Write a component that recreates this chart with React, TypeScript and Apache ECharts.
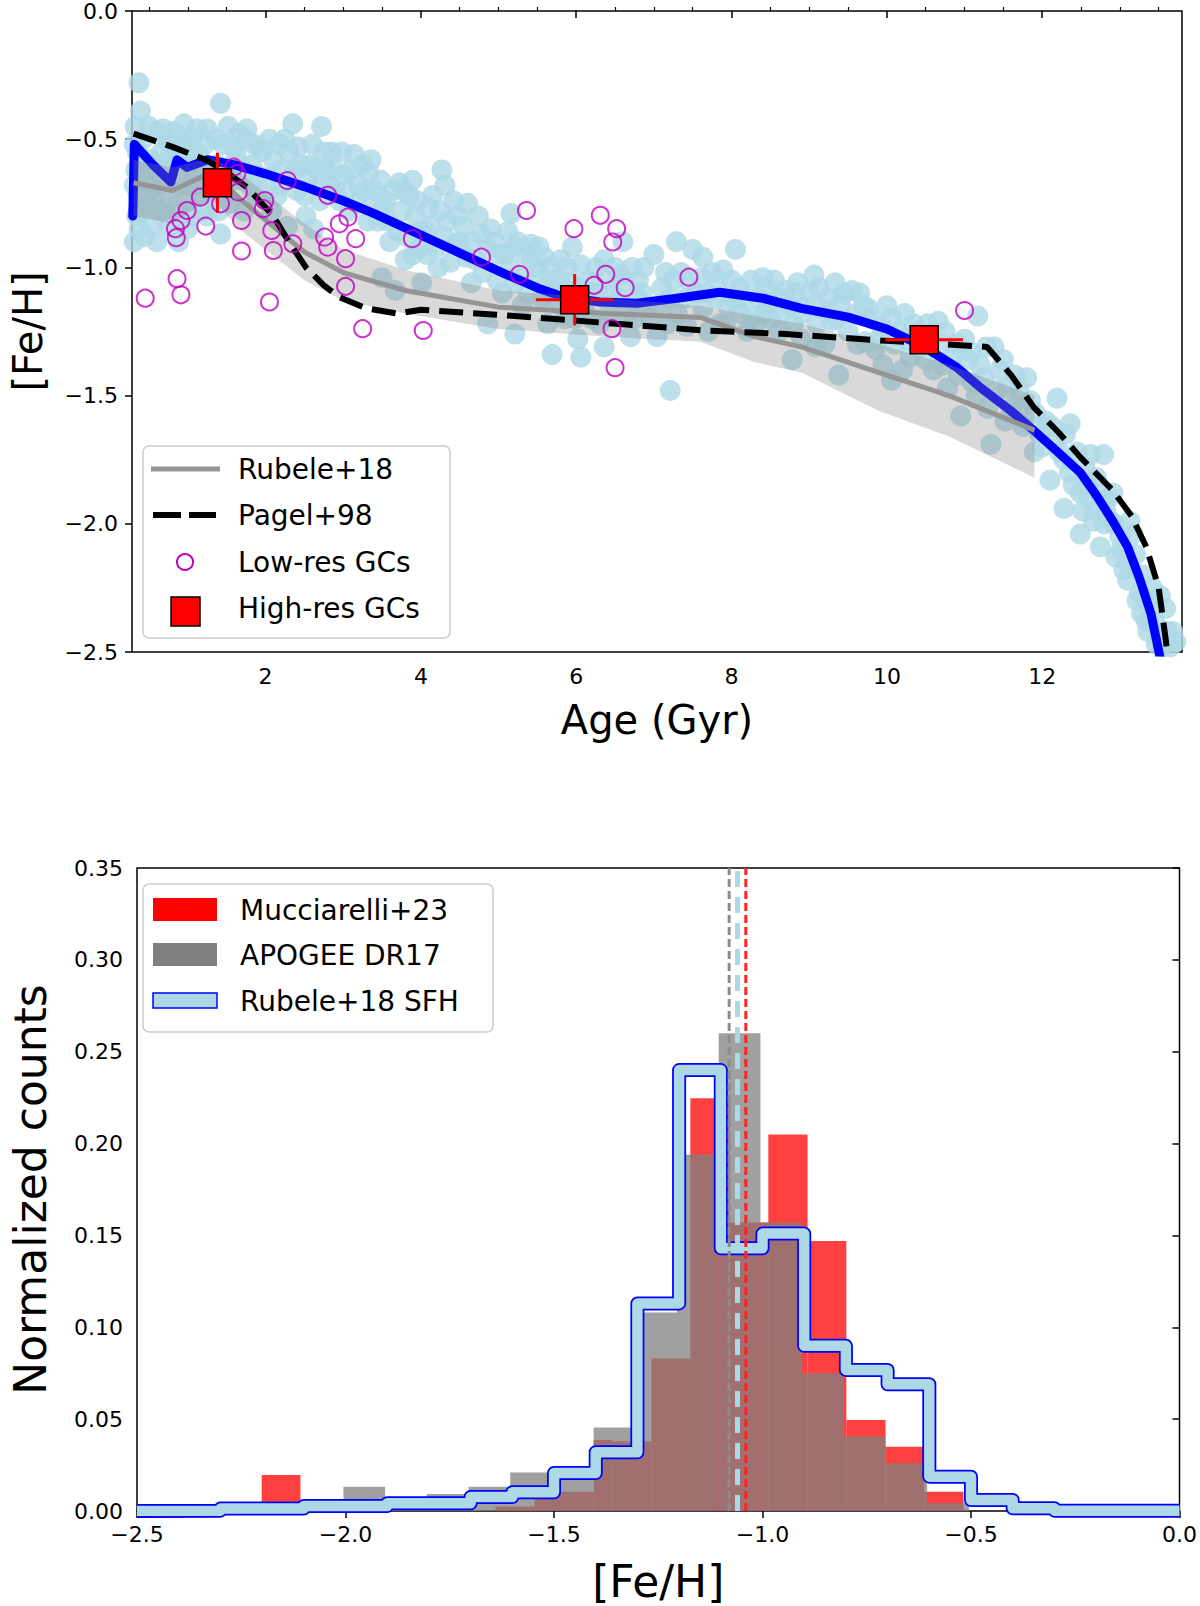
import React, { useEffect, useRef } from "react";
import * as echarts from "echarts";

const FONT = "DejaVu Sans";

// ---------------- Top panel: age–metallicity relation ----------------
const X_TOP_TICKS = [2, 4, 6, 8, 10, 12];
const X_TOP_MINOR = [0.5, 1, 1.5, 2.5, 3, 3.5, 4.5, 5, 5.5, 6.5, 7, 7.5, 8.5, 9, 9.5, 10.5, 11, 11.5, 12.5, 13, 13.5];

// light-blue field stars [age, feh]
const FIELD_STARS: [number, number][] = [
  [0.37, -0.28], [0.39, -0.39], [0.31, -0.9], [0.37, -0.85], [0.57, -0.74], [0.48, -0.61], [0.74, -0.51], [0.99, -0.51],
  [1.42, -0.36], [1.25, -0.46], [1.59, -0.53], [1.76, -0.46], [1.93, -0.53], [0.32, -0.45], [0.35, -0.55], [0.33, -0.62],
  [0.36, -0.72], [0.34, -0.8], [0.42, -0.5], [0.45, -0.66], [0.48, -0.75], [0.52, -0.58], [0.55, -0.83], [0.6, -0.47],
  [0.62, -0.68], [0.66, -0.55], [0.7, -0.77], [0.72, -0.62], [0.78, -0.5], [0.8, -0.7], [0.84, -0.58], [0.9, -0.65],
  [0.93, -0.52], [0.97, -0.74], [0.99, -0.85], [1.02, -0.6], [1.06, -0.49], [1.1, -0.68], [1.14, -0.56], [1.18, -0.78],
  [1.22, -0.52], [1.25, -0.8], [1.3, -0.62], [1.33, -0.72], [1.42, -0.87], [1.45, -0.52], [1.5, -0.64], [1.55, -0.75],
  [1.62, -0.56], [1.7, -0.66], [1.75, -0.5], [1.82, -0.6], [1.88, -0.72], [1.95, -0.55],
  [0.31, -0.52], [0.31, -0.68], [0.4, -0.58], [0.4, -0.78], [0.44, -0.88], [0.5, -0.45], [0.53, -0.68], [0.58, -0.6],
  [0.6, -0.9], [0.64, -0.78], [0.68, -0.46], [0.75, -0.58], [0.76, -0.84], [0.82, -0.47], [0.86, -0.78], [0.88, -0.9],
  [0.95, -0.44], [1.0, -0.68], [1.04, -0.8], [1.08, -0.58], [1.12, -0.46], [1.16, -0.64], [1.2, -0.72], [1.27, -0.66],
  [1.36, -0.5], [1.38, -0.6], [1.4, -0.78], [1.48, -0.72], [1.52, -0.45], [1.58, -0.66], [1.65, -0.48], [1.68, -0.6],
  [1.72, -0.78], [1.8, -0.68], [1.85, -0.52], [1.9, -0.64], [1.98, -0.72],
  [2.02, -0.65], [2.1, -0.58], [2.15, -0.72], [2.18, -0.52], [2.22, -0.62], [2.3, -0.55], [2.35, -0.44], [2.4, -0.7],
  [2.45, -0.6], [2.52, -0.8], [2.55, -0.66], [2.6, -0.52], [2.65, -0.61], [2.7, -0.74], [2.72, -0.45], [2.78, -0.62],
  [2.85, -0.55], [2.9, -0.7], [2.95, -0.74], [3.0, -0.64], [3.08, -0.78], [3.14, -0.56], [3.2, -0.68], [3.25, -0.6],
  [3.33, -0.63], [3.38, -0.74], [3.4, -0.7], [3.45, -0.82], [3.5, -1.04], [3.55, -0.74], [3.6, -0.9], [3.67, -1.09],
  [3.72, -0.67], [3.75, -0.78], [3.8, -0.97], [3.85, -0.72], [3.89, -0.66], [3.9, -0.95], [3.93, -0.8], [3.97, -0.93],
  [2.05, -0.5], [2.08, -0.78], [2.2, -0.68], [2.25, -0.5], [2.28, -0.84], [2.38, -0.62], [2.42, -0.53], [2.5, -0.72],
  [2.58, -0.6], [2.62, -0.85], [2.68, -0.67], [2.75, -0.55], [2.82, -0.68], [2.88, -0.62], [2.98, -0.55], [3.04, -0.7],
  [3.1, -0.62], [3.18, -0.75], [3.28, -0.7], [3.32, -0.82], [3.36, -0.58], [3.48, -0.66], [3.52, -0.76], [3.58, -0.82],
  [3.64, -0.7], [3.7, -0.86], [3.78, -0.7], [3.82, -0.88], [3.95, -0.74], [3.98, -0.86],
  [4.01, -1.06], [4.05, -0.86], [4.1, -0.77], [4.15, -0.72], [4.2, -0.92], [4.22, -1.0], [4.27, -0.62], [4.31, -0.68],
  [4.35, -0.82], [4.44, -0.91], [4.48, -0.8], [4.5, -0.9], [4.6, -0.75], [4.65, -1.06], [4.7, -0.97], [4.78, -0.87],
  [4.86, -0.93], [4.86, -1.22], [4.9, -0.85], [5.0, -0.95], [5.05, -1.1], [5.12, -0.86], [5.16, -0.79], [5.21, -1.06],
  [5.21, -1.26], [5.25, -0.9], [5.3, -1.15], [5.42, -0.91], [5.42, -0.97], [5.5, -1.0], [5.55, -1.12], [5.59, -0.96],
  [5.63, -1.22], [5.69, -1.34], [5.7, -1.05], [5.8, -0.97], [5.85, -1.2], [5.93, -1.06], [5.95, -0.92],
  [4.08, -0.95], [4.12, -0.84], [4.25, -0.78], [4.3, -0.88], [4.38, -0.98], [4.42, -0.74], [4.55, -0.84], [4.58, -0.96],
  [4.66, -0.9], [4.74, -0.8], [4.8, -1.02], [4.95, -0.9], [4.98, -1.05], [5.08, -0.95], [5.15, -1.0], [5.2, -0.92],
  [5.28, -1.04], [5.35, -0.95], [5.38, -1.1], [5.46, -1.05], [5.52, -0.92], [5.6, -1.08], [5.66, -1.0], [5.74, -1.14],
  [5.78, -1.05], [5.88, -1.0], [5.9, -1.12], [5.98, -1.2],
  [6.02, -1.28], [6.06, -0.99], [6.06, -1.35], [6.1, -1.15], [6.19, -1.1], [6.25, -1.0], [6.3, -1.22], [6.36, -0.97],
  [6.36, -1.31], [6.45, -1.1], [6.57, -1.03], [6.6, -0.9], [6.65, -1.18], [6.7, -1.27], [6.78, -1.12], [6.8, -1.05],
  [6.87, -1.0], [6.95, -1.2], [7.0, -0.95], [7.04, -1.27], [7.1, -1.08], [7.21, -1.48], [7.21, -1.12], [7.29, -0.9],
  [7.3, -1.18], [7.35, -1.02], [7.42, -1.23], [7.5, -0.93], [7.55, -1.1], [7.63, -0.96], [7.63, -1.16], [7.7, -1.25],
  [7.75, -1.02], [7.85, -1.22], [7.89, -1.01], [7.95, -1.15],
  [6.05, -1.08], [6.15, -1.05], [6.2, -1.2], [6.28, -1.1], [6.4, -1.05], [6.42, -1.18], [6.5, -1.0], [6.55, -1.12],
  [6.62, -1.06], [6.72, -1.0], [6.75, -1.2], [6.85, -1.1], [6.9, -1.16], [7.05, -1.15], [7.15, -1.02], [7.18, -1.22],
  [7.25, -1.05], [7.4, -1.12], [7.45, -1.05], [7.6, -1.04], [7.68, -1.1], [7.8, -1.12], [7.82, -1.05], [7.92, -1.22],
  [8.05, -0.93], [8.06, -1.14], [8.1, -1.08], [8.2, -1.25], [8.27, -1.19], [8.35, -1.12], [8.4, -1.04], [8.48, -1.14],
  [8.5, -1.2], [8.55, -1.05], [8.61, -1.25], [8.7, -1.09], [8.75, -1.15], [8.78, -1.36], [8.82, -1.1], [8.9, -1.28],
  [8.91, -1.18], [9.0, -1.1], [9.06, -1.03], [9.08, -1.31], [9.15, -1.16], [9.2, -1.3], [9.29, -1.21], [9.33, -1.06],
  [9.38, -1.42], [9.4, -1.14], [9.5, -1.25], [9.55, -1.09], [9.65, -1.1], [9.72, -1.29], [9.76, -1.16], [9.8, -1.2],
  [9.85, -1.32], [9.93, -1.23],
  [8.0, -1.05], [8.12, -1.18], [8.15, -1.12], [8.25, -1.05], [8.3, -1.22], [8.42, -1.18], [8.45, -1.08], [8.6, -1.12],
  [8.65, -1.18], [8.8, -1.22], [8.85, -1.06], [8.95, -1.15], [9.1, -1.22], [9.12, -1.08], [9.25, -1.12], [9.35, -1.2],
  [9.45, -1.1], [9.6, -1.18], [9.62, -1.3], [9.7, -1.15], [9.9, -1.28], [9.95, -1.38],
  [10.0, -1.15], [10.06, -1.44], [10.15, -1.25], [10.23, -1.18], [10.3, -1.35], [10.35, -1.22], [10.44, -1.31],
  [10.55, -1.3], [10.6, -1.4], [10.66, -1.21], [10.75, -1.25], [10.78, -1.47], [10.85, -1.35], [10.95, -1.58],
  [11.0, -1.28], [11.04, -1.36], [11.1, -1.45], [11.17, -1.19], [11.2, -1.38], [11.28, -1.31], [11.34, -1.69],
  [11.38, -1.31], [11.45, -1.4], [11.55, -1.47], [11.6, -1.55], [11.65, -1.42], [11.72, -1.55], [11.8, -1.43],
  [11.85, -1.52], [11.9, -1.72], [11.97, -1.65],
  [10.05, -1.2], [10.1, -1.3], [10.2, -1.4], [10.25, -1.28], [10.4, -1.25], [10.5, -1.36], [10.52, -1.22], [10.7, -1.3],
  [10.72, -1.38], [10.9, -1.3], [10.92, -1.42], [11.08, -1.33], [11.15, -1.5], [11.25, -1.43], [11.3, -1.55],
  [11.42, -1.48], [11.5, -1.36], [11.52, -1.6], [11.7, -1.48], [11.75, -1.62], [11.92, -1.57],
  [12.05, -1.6], [12.1, -1.83], [12.15, -1.68], [12.19, -1.51], [12.28, -1.75], [12.28, -1.94], [12.3, -1.65],
  [12.36, -1.61], [12.4, -1.85], [12.49, -1.88], [12.49, -2.04], [12.55, -1.78], [12.6, -1.9], [12.62, -1.73],
  [12.66, -1.99], [12.7, -1.82], [12.75, -2.09], [12.79, -1.73], [12.8, -2.0], [12.85, -1.9], [12.89, -1.99],
  [12.91, -1.88], [12.95, -2.13], [13.0, -2.05], [13.05, -2.18], [13.13, -1.99], [13.13, -2.17], [13.17, -2.04],
  [13.2, -2.12], [13.25, -2.27], [13.3, -2.2], [13.34, -2.38], [13.38, -2.3], [13.42, -2.25], [13.45, -2.38],
  [13.47, -2.47], [13.52, -2.28], [13.59, -2.33], [13.6, -2.42], [13.65, -2.48], [13.68, -2.42], [13.72, -2.46],
  [12.0, -1.7], [12.12, -1.62], [12.22, -1.72], [12.35, -1.8], [12.45, -1.72], [12.52, -1.95], [12.58, -1.84],
  [12.68, -1.95], [12.75, -1.88], [12.82, -1.95], [12.92, -2.0], [13.02, -2.1], [13.1, -2.22], [13.22, -2.3],
  [13.28, -2.35], [13.36, -2.42], [13.55, -2.48],
];

// blue model AMR
const BLUE_AGE = [0.29, 0.31, 0.55, 0.78, 0.86, 0.99, 1.25, 1.6, 2.0, 2.5, 3.0, 3.4, 3.8, 4.4, 5.08, 5.5, 5.84, 6.3, 6.78, 7.3, 7.85, 8.4, 8.9, 9.5, 10.0, 10.48, 10.9, 11.21, 11.6, 11.89, 12.2, 12.49, 12.7, 12.91, 13.1, 13.25, 13.4, 13.51, 13.56];
const BLUE_FEH = [-0.8, -0.52, -0.6, -0.667, -0.58, -0.61, -0.58, -0.6, -0.635, -0.685, -0.74, -0.79, -0.846, -0.93, -1.025, -1.08, -1.115, -1.135, -1.14, -1.12, -1.097, -1.12, -1.16, -1.194, -1.24, -1.31, -1.39, -1.47, -1.56, -1.636, -1.72, -1.8, -1.89, -1.99, -2.09, -2.21, -2.35, -2.51, -2.6];

// Rubele+18 AMR with its uncertainty band
const RUBELE_AGE = [0.3, 0.8, 1.3, 1.7, 2.5, 3.0, 3.8, 5.0, 6.4, 7.6, 8.3, 8.9, 9.9, 10.8, 11.9];
const RUBELE_FEH = [-0.67, -0.7, -0.63, -0.74, -0.94, -1.02, -1.09, -1.155, -1.18, -1.195, -1.27, -1.31, -1.41, -1.5, -1.635];
const RUBELE_UPPER = [-0.58, -0.61, -0.57, -0.64, -0.83, -0.93, -1.01, -1.09, -1.12, -1.15, -1.19, -1.22, -1.3, -1.38, -1.5];
const RUBELE_LOWER = [-0.8, -0.83, -0.73, -0.86, -1.05, -1.13, -1.18, -1.24, -1.27, -1.29, -1.37, -1.41, -1.56, -1.66, -1.82];

// Pagel+98
const PAGEL_AGE = [0.3, 0.8, 1.25, 1.5, 1.76, 1.95, 2.1, 2.3, 2.52, 2.75, 2.95, 3.3, 3.7, 4.0, 5.08, 6.36, 7.64, 8.65, 9.93, 11.29, 11.6, 11.89, 12.2, 12.49, 12.91, 13.15, 13.34, 13.5, 13.59, 13.65];
const PAGEL_FEH = [-0.478, -0.53, -0.583, -0.63, -0.687, -0.75, -0.8, -0.9, -1.0, -1.07, -1.116, -1.16, -1.18, -1.165, -1.187, -1.216, -1.246, -1.259, -1.285, -1.31, -1.42, -1.545, -1.64, -1.74, -1.87, -1.97, -2.09, -2.25, -2.45, -2.6];

// low-resolution GCs
const LOWRES_AGE = [0.45, 0.86, 0.91, 0.85, 0.84, 0.91, 0.99, 1.23, 1.16, 1.42, 1.59, 1.63, 1.65, 1.69, 1.69, 1.99, 1.97, 2.08, 2.1, 2.05, 2.28, 2.35, 2.8, 2.76, 2.8, 2.95, 3.06, 3.16, 3.03, 3.03, 3.25, 3.89, 5.36, 4.78, 5.27, 4.03, 5.97, 6.31, 6.52, 6.47, 6.38, 6.23, 6.63, 6.46, 6.5, 7.45, 11.0];
const LOWRES_FEH = [-1.12, -1.044, -1.107, -0.884, -0.849, -0.817, -0.778, -0.839, -0.726, -0.752, -0.609, -0.634, -0.706, -0.817, -0.936, -0.739, -0.771, -0.856, -0.934, -1.135, -0.661, -0.908, -0.719, -0.882, -0.921, -0.83, -0.804, -0.888, -0.966, -1.074, -1.239, -0.888, -0.778, -0.96, -1.027, -1.246, -0.849, -0.797, -0.849, -0.901, -1.027, -1.07, -1.079, -1.239, -1.391, -1.038, -1.168];

// high-resolution GCs
const HIRES_AGE = [1.38, 5.98, 10.48];
const HIRES_FEH = [-0.67, -1.126, -1.282];
const HIRES_AGE_ERR = [0.1, 0.5, 0.5];
const HIRES_FEH_ERR = [0.117, 0.1, 0.03];

// ---------------- Bottom panel: MDFs ----------------
const RED_EDGES = [-2.201, -2.108, -2.014, -1.921, -1.827, -1.734, -1.64, -1.547, -1.405, -1.36, -1.266, -1.173, -1.079, -0.986, -0.892, -0.799, -0.705, -0.612, -0.518];
const RED_COUNTS = [0.0196, 0, 0, 0, 0, 0, 0.0025, 0.0105, 0.0387, 0.038, 0.083, 0.2247, 0.157, 0.205, 0.147, 0.0496, 0.035, 0.0105];

const GRAY_EDGES = [-2.005, -1.905, -1.805, -1.705, -1.605, -1.505, -1.405, -1.305, -1.205, -1.105, -1.005, -0.905, -0.805, -0.705, -0.605, -0.505];
const GRAY_COUNTS = [0.0132, 0.003, 0.0093, 0.0132, 0.0209, 0.018, 0.0454, 0.108, 0.194, 0.26, 0.157, 0.075, 0.0405, 0.026, 0.0042];

const SFH_EDGES = [-2.5, -2.3, -2.1, -1.9, -1.7, -1.6, -1.5, -1.4, -1.3, -1.2, -1.1, -1.0, -0.9, -0.8, -0.7, -0.6, -0.5, -0.4, -0.3, 0.0];
const SFH_COUNTS = [0.0002, 0.0013, 0.0027, 0.0042, 0.0076, 0.0102, 0.0207, 0.032, 0.113, 0.24, 0.143, 0.151, 0.0899, 0.0768, 0.069, 0.0187, 0.006, 0.0015, 0.0002];

const MEAN_NAMES = ["APOGEE mean", "SFH mean", "Mucciarelli mean"];
const MEAN_FEH = [-1.08, -1.06, -1.04];

// ---------------- helpers ----------------
const fmt = (d: number) => (v: number) => {
  const s = Math.abs(v).toFixed(d);
  return v < -1e-9 ? "\u2212" + s : s;
};
const pairs = (xs: number[], ys: number[]) => xs.map((x, i) => [x, ys[i]]);
const stepPoints = (edges: number[], counts: number[]) => {
  const pts: number[][] = [[edges[0], 0]];
  counts.forEach((c, i) => {
    pts.push([edges[i], c]);
    pts.push([edges[i + 1], c]);
  });
  pts.push([edges[edges.length - 1], 0]);
  return pts;
};
const histData = (edges: number[], counts: number[]) => counts.map((c, i) => [edges[i], edges[i + 1], c]);

const tickLabel = (d: number) => ({ fontSize: 22, color: "#000", fontFamily: FONT, formatter: fmt(d) });
const tick = { show: true, length: 7, lineStyle: { color: "#000", width: 1.5 } };
const nameStyle = (size: number) => ({ fontSize: size, color: "#000", fontFamily: FONT });

const histRender = (fill: string) => (params: any, api: any) => {
  const x0 = api.value(0), x1 = api.value(1), h = api.value(2);
  if (!(h > 0)) return null;
  const p0 = api.coord([x0, h]);
  const p1 = api.coord([x1, 0]);
  return {
    type: "rect",
    shape: { x: p0[0], y: p0[1], width: p1[0] - p0[0], height: p1[1] - p0[1] },
    style: { fill },
  };
};

function buildOption(): any {
  const lineBase = { type: "line", showSymbol: false, symbol: "none", silent: true, animation: false };
  const legendText = (text: string, x: number, y: number) => ({
    type: "text",
    x,
    y,
    z: 101,
    style: { text, fontSize: 28, fontFamily: FONT, fill: "#000", verticalAlign: "middle", align: "left" },
  });
  return {
    animation: false,
    backgroundColor: "#fff",
    grid: [
      { left: 126, top: 11, width: 1056, height: 641, show: true, borderColor: "#000", borderWidth: 1.5, backgroundColor: "transparent" },
      { left: 126, top: 868, width: 1056, height: 643, show: true, borderColor: "#000", borderWidth: 1.5, backgroundColor: "transparent" },
    ],
    xAxis: [
      {
        gridIndex: 0, type: "value", min: 0.28, max: 13.8,
        axisLine: { show: false }, splitLine: { show: false },
        axisTick: { ...tick, customValues: X_TOP_TICKS },
        axisLabel: { ...tickLabel(0), customValues: X_TOP_TICKS, margin: 13, formatter: (v: number) => String(v) },
        name: "Age (Gyr)", nameLocation: "middle", nameGap: 48, nameTextStyle: nameStyle(40),
      },
      {
        gridIndex: 0, type: "value", min: 0.28, max: 13.8,
        axisLine: { show: false }, splitLine: { show: false },
        axisTick: { show: true, length: 4, lineStyle: { color: "#000", width: 1.2 }, customValues: X_TOP_MINOR },
        axisLabel: { show: false },
      },
      {
        gridIndex: 1, type: "value", min: -2.5, max: 0, interval: 0.5,
        axisLine: { show: false }, splitLine: { show: false },
        axisTick: tick,
        axisLabel: { ...tickLabel(1), margin: 12 },
        name: "[Fe/H]", nameLocation: "middle", nameGap: 48, nameTextStyle: nameStyle(44),
      },
    ],
    yAxis: [
      {
        gridIndex: 0, type: "value", min: -2.5, max: 0, interval: 0.5,
        axisLine: { show: false }, splitLine: { show: false },
        axisTick: tick,
        axisLabel: { ...tickLabel(1), margin: 14 },
        name: "[Fe/H]", nameLocation: "middle", nameGap: 84, nameRotate: 90, nameTextStyle: nameStyle(40),
      },
      {
        gridIndex: 1, type: "value", min: 0, max: 0.35, interval: 0.05,
        axisLine: { show: false }, splitLine: { show: false },
        axisTick: tick,
        axisLabel: { ...tickLabel(2), margin: 14 },
        name: "Normalized counts", nameLocation: "middle", nameGap: 85, nameRotate: 90, nameTextStyle: nameStyle(44),
      },
    ],
    series: [
      // ---- top panel ----
      {
        type: "scatter", name: "Field stars", xAxisIndex: 0, yAxisIndex: 0, z: 2, silent: true,
        symbol: "circle", symbolSize: 21,
        itemStyle: { color: "#add8e6", opacity: 0.8 },
        data: FIELD_STARS,
      },
      {
        ...lineBase, name: "Model AMR", xAxisIndex: 0, yAxisIndex: 0, z: 3,
        lineStyle: { color: "#0000ff", width: 9, join: "round", cap: "round" },
        data: pairs(BLUE_AGE, BLUE_FEH),
      },
      {
        type: "custom", name: "Rubele band", xAxisIndex: 0, yAxisIndex: 0, z: 4, silent: true,
        data: [[RUBELE_AGE[0], RUBELE_UPPER[0]]],
        renderItem: (params: any, api: any) => {
          if (params.dataIndex !== 0) return null;
          const pts: number[][] = [];
          RUBELE_AGE.forEach((a, i) => pts.push(api.coord([a, RUBELE_UPPER[i]])));
          for (let i = RUBELE_AGE.length - 1; i >= 0; i--) pts.push(api.coord([RUBELE_AGE[i], RUBELE_LOWER[i]]));
          return { type: "polygon", shape: { points: pts }, style: { fill: "rgba(128,128,128,0.3)" } };
        },
      },
      {
        ...lineBase, name: "Rubele+18", xAxisIndex: 0, yAxisIndex: 0, z: 5,
        lineStyle: { color: "#959595", width: 5 },
        data: pairs(RUBELE_AGE, RUBELE_FEH),
      },
      {
        ...lineBase, name: "Pagel+98", xAxisIndex: 0, yAxisIndex: 0, z: 6,
        lineStyle: { color: "#000", width: 6, type: [24, 10] },
        data: pairs(PAGEL_AGE, PAGEL_FEH),
      },
      {
        type: "scatter", name: "Low-res GCs", xAxisIndex: 0, yAxisIndex: 0, z: 7, silent: true,
        symbol: "circle", symbolSize: 17,
        itemStyle: { color: "rgba(0,0,0,0)", borderColor: "#c000c0", borderWidth: 2 },
        data: pairs(LOWRES_AGE, LOWRES_FEH),
      },
      {
        type: "custom", name: "High-res GCs", xAxisIndex: 0, yAxisIndex: 0, z: 8, silent: true,
        data: HIRES_AGE.map((a, i) => [a, HIRES_FEH[i], HIRES_AGE_ERR[i], HIRES_FEH_ERR[i]]),
        encode: { x: 0, y: 1 },
        renderItem: (params: any, api: any) => {
          const a = api.value(0), f = api.value(1), ex = api.value(2), ey = api.value(3);
          const c = api.coord([a, f]);
          const l = api.coord([a - ex, f]);
          const r = api.coord([a + ex, f]);
          const t = api.coord([a, f + ey]);
          const b = api.coord([a, f - ey]);
          const s = 28;
          return {
            type: "group",
            children: [
              { type: "line", shape: { x1: l[0], y1: l[1], x2: r[0], y2: r[1] }, style: { stroke: "#ff0000", lineWidth: 3 } },
              { type: "line", shape: { x1: t[0], y1: t[1], x2: b[0], y2: b[1] }, style: { stroke: "#ff0000", lineWidth: 3 } },
              { type: "rect", shape: { x: c[0] - s / 2, y: c[1] - s / 2, width: s, height: s }, style: { fill: "#ff0000", stroke: "#000", lineWidth: 1.5 } },
            ],
          };
        },
      },
      // ---- bottom panel ----
      {
        type: "custom", name: "Mucciarelli+23", xAxisIndex: 2, yAxisIndex: 1, z: 2, silent: true,
        data: histData(RED_EDGES, RED_COUNTS), encode: { x: [0, 1], y: 2 },
        renderItem: histRender("rgba(255,0,0,0.75)"),
      },
      {
        type: "custom", name: "APOGEE DR17", xAxisIndex: 2, yAxisIndex: 1, z: 3, silent: true,
        data: histData(GRAY_EDGES, GRAY_COUNTS), encode: { x: [0, 1], y: 2 },
        renderItem: histRender("rgba(128,128,128,0.75)"),
      },
      {
        ...lineBase, name: "Rubele+18 SFH outline", xAxisIndex: 2, yAxisIndex: 1, z: 4,
        lineStyle: { color: "#0000ff", width: 14, join: "round" },
        data: stepPoints(SFH_EDGES, SFH_COUNTS),
      },
      {
        ...lineBase, name: "Rubele+18 SFH", xAxisIndex: 2, yAxisIndex: 1, z: 5,
        lineStyle: { color: "#add8e6", width: 10.5, join: "round" },
        data: stepPoints(SFH_EDGES, SFH_COUNTS),
      },
      {
        ...lineBase, name: MEAN_NAMES[0], xAxisIndex: 2, yAxisIndex: 1, z: 6,
        lineStyle: { color: "#8c8c8c", width: 3, type: [8, 4] },
        data: [[MEAN_FEH[0], 0], [MEAN_FEH[0], 0.35]],
      },
      {
        ...lineBase, name: MEAN_NAMES[1], xAxisIndex: 2, yAxisIndex: 1, z: 6,
        lineStyle: { color: "#add8e6", width: 5, type: [16, 10] },
        data: [[MEAN_FEH[1], 0], [MEAN_FEH[1], 0.35]],
      },
      {
        ...lineBase, name: MEAN_NAMES[2], xAxisIndex: 2, yAxisIndex: 1, z: 6,
        lineStyle: { color: "#ff2020", width: 3, type: [8, 4] },
        data: [[MEAN_FEH[2], 0], [MEAN_FEH[2], 0.35]],
      },
    ],
    graphic: [
      // top legend
      { type: "rect", z: 100, shape: { x: 143, y: 446, width: 307, height: 192, r: 6 }, style: { fill: "rgba(255,255,255,0.8)", stroke: "#cccccc", lineWidth: 1.5 } },
      { type: "line", z: 101, shape: { x1: 151, y1: 469, x2: 220, y2: 469 }, style: { stroke: "#959595", lineWidth: 5 } },
      { type: "line", z: 101, shape: { x1: 153, y1: 515, x2: 216, y2: 515 }, style: { stroke: "#000", lineWidth: 6, lineDash: [28, 8] } },
      { type: "circle", z: 101, shape: { cx: 185, cy: 562, r: 8 }, style: { fill: "none", stroke: "#c000c0", lineWidth: 2 } },
      { type: "rect", z: 101, shape: { x: 171, y: 597, width: 29, height: 29 }, style: { fill: "#ff0000", stroke: "#000", lineWidth: 1.5 } },
      legendText("Rubele+18", 238, 469),
      legendText("Pagel+98", 238, 515),
      legendText("Low-res GCs", 238, 562),
      legendText("High-res GCs", 238, 608),
      // bottom legend
      { type: "rect", z: 100, shape: { x: 143, y: 884, width: 350, height: 148, r: 6 }, style: { fill: "rgba(255,255,255,0.8)", stroke: "#cccccc", lineWidth: 1.5 } },
      { type: "rect", z: 101, shape: { x: 153, y: 898, width: 64, height: 23 }, style: { fill: "#ff0000" } },
      { type: "rect", z: 101, shape: { x: 153, y: 943, width: 64, height: 23 }, style: { fill: "#808080" } },
      { type: "rect", z: 101, shape: { x: 153, y: 993, width: 64, height: 15 }, style: { fill: "#add8e6", stroke: "#0000ff", lineWidth: 1.5 } },
      legendText("Mucciarelli+23", 240, 910),
      legendText("APOGEE DR17", 240, 955),
      legendText("Rubele+18 SFH", 240, 1001),
    ],
  };
}

export default function App() {
  const ref = useRef<HTMLDivElement>(null);
  useEffect(() => {
    if (!ref.current) return;
    const chart = echarts.init(ref.current, undefined, { renderer: "svg" });
    chart.setOption(buildOption());
    return () => chart.dispose();
  }, []);
  return (
    <div
      ref={ref}
      style={{ position: "absolute", left: 0, top: 0, width: 1200, height: 1606, background: "#fff" }}
    />
  );
}
